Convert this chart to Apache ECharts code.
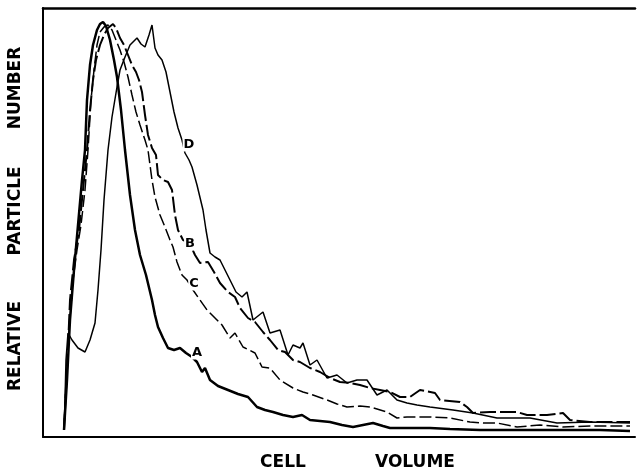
<!DOCTYPE html>
<html>
<head>
<meta charset="utf-8">
<script src="https://cdn.jsdelivr.net/npm/echarts@6/dist/echarts.min.js"></script>
<style>
  html, body { margin: 0; padding: 0; background: #fff; }
  #chart { width: 637px; height: 473px; }
</style>
</head>
<body>
<div id="chart"></div>
<script>
// cell volume (channel) vs relative particle number
var curveA = [
  [5.25, 1.75], [6, 14.25], [6.75, 29.25], [7.75, 41.75], [8.75, 53], [9.75, 64.25], [10.5, 71.75],
  [11, 84.25], [11.75, 93], [12.5, 98], [13.5, 101.75], [14.25, 103.25], [15, 103.75], [15.75, 102.75],
  [16.75, 99.25], [17.75, 94.25], [18.5, 90], [19.5, 81.75], [20.5, 71.75], [21.75, 60.5], [23, 51.75],
  [24.25, 45.5], [25.75, 40.5], [27.25, 34.25], [28, 30.5], [28.75, 27.5], [30, 24.75], [31.25, 22.25],
  [32.75, 21.75], [34.25, 22.25], [35.75, 21], [37.25, 20], [38.5, 18.75], [39.75, 16.25], [40.5, 17.25],
  [41.75, 14.25], [43.75, 12.75], [46.25, 11.75], [48.75, 10.75], [51.25, 10], [53.5, 7.5], [55.5, 6.75],
  [57.5, 6.25], [60, 5.5], [62.5, 5], [64.75, 5.5], [66.75, 4.25], [69.25, 4], [71.75, 3.75], [74.75, 3],
  [77.5, 2.5], [80, 3], [82.5, 3.5], [85, 2.75], [86.75, 2.25], [91.75, 2.25], [96.75, 2.25], [101.75, 2],
  [109.25, 1.75], [116.75, 1.75], [124.25, 1.75], [131.75, 1.75], [139.25, 1.75], [146.75, 1.5]
]
var curveB = [
  [5.25, 1.75], [6, 16.75], [6.75, 34.25], [7.75, 44.25], [9, 51.75], [10, 61.75], [11, 71.75],
  [11.75, 81.75], [12.5, 89.25], [13.25, 94.25], [14.25, 98], [15.25, 100.5], [16.25, 102.25], [17.5, 103.25],
  [18.25, 102.25], [19.25, 99.75], [20.25, 98], [21.25, 95.5], [22.25, 93], [23.25, 91.25], [24, 89.25],
  [24.75, 86.25], [25.5, 80.5], [26.25, 75.5], [27.25, 72.25], [28.25, 70.5], [28.75, 65.5], [30, 64.25],
  [31.25, 63.75], [32.25, 61.75], [33, 55.5], [33.75, 51.75], [35, 49.25], [36.75, 48.25], [38, 45.5],
  [39.25, 43.5], [41.25, 43.75], [42.75, 41.25], [44.25, 38.5], [46.25, 36.25], [48, 35], [49.25, 32.25],
  [51.25, 29.75], [53, 28.75], [55, 26.25], [56.75, 24.25], [58.75, 21.75], [60.5, 21.25], [62.5, 19.25],
  [64.25, 18.75], [66.75, 17.25], [69.25, 16.25], [71.75, 14.75], [74.25, 13.75], [76.75, 13.5], [79.25, 13],
  [81.75, 12.25], [84.25, 11.75], [86.75, 11.25], [89.25, 10], [91.75, 10], [94.25, 11.75], [98, 11],
  [99.25, 9.25], [104.25, 8.75], [106, 7.5], [107.5, 6], [111.75, 6.25], [118.5, 6.25], [121, 5.5],
  [126, 5.5], [130, 6], [131.75, 4.25], [136.75, 3.75], [146.75, 3.75]
]
var curveC = [
  [5.25, 1.75], [5.75, 14.25], [6.5, 26.75], [7.5, 39.25], [8.5, 46.75], [9.5, 53], [10.5, 61.75],
  [11.25, 71.75], [12, 84.25], [12.75, 91.75], [13.5, 98], [14.25, 101.25], [15.25, 102.5], [16.25, 103],
  [17.25, 101.75], [18.25, 99.25], [19.25, 96.75], [20.25, 93.75], [21.25, 90], [22.25, 85.5], [23.25, 81.25],
  [24.25, 78], [25.5, 74.25], [26.25, 71.75], [27.25, 64.25], [28, 60], [29.25, 55.5], [30.5, 52.5],
  [31.75, 49.25], [32.5, 47.5], [33.5, 43.75], [34.75, 40.5], [36, 39.25], [37.5, 36.75], [39.25, 34.25],
  [41, 31.75], [43, 29.75], [44.75, 28], [46.75, 24.75], [48, 26], [50, 22.5], [53, 21], [54.75, 17.5],
  [56.75, 17.25], [59.25, 14.25], [62.5, 12.25], [65, 11.25], [67.5, 10.5], [71, 9.25], [73.5, 8.25],
  [76, 7.5], [79.25, 7.75], [81.75, 7.5], [86, 6.25], [88.5, 4.75], [91, 5], [93.5, 5], [96.75, 5],
  [101.75, 4.75], [106.75, 3.75], [110, 3.5], [113.5, 3.5], [118.5, 2.5], [124.25, 3], [130, 2.5],
  [136.75, 2.75], [146.75, 2.75]
]
var curveD = [
  [5.25, 1.75], [5.5, 9.25], [5.75, 19.25], [6.25, 26], [7.25, 24.25], [8.75, 22.25], [10.5, 21.25],
  [11.75, 24.25], [13, 28.5], [13.75, 36.75], [14.5, 46.75], [15.25, 59.25], [16.25, 71.75], [17.25, 80],
  [18.5, 87.5], [19.25, 91.75], [20.5, 95], [21.75, 98], [23.5, 99.75], [24.5, 98.25], [25.5, 97.5],
  [26.5, 100.5], [27.25, 103], [28, 97.25], [28.75, 95.5], [29.75, 94.25], [30.75, 91.25], [31.75, 86.25],
  [32.75, 81.25], [33.75, 77.25], [34.75, 74.25], [35.5, 71], [36.5, 69.25], [37.25, 67.5], [38.5, 63],
  [40, 56.75], [40.75, 51.75], [41.75, 46], [43, 45], [44.25, 44.25], [45.5, 41.75], [46.75, 39.25],
  [48.25, 36.25], [49.75, 35], [51, 36.25], [52.5, 29.25], [55, 31.25], [56.75, 26], [59.25, 26.75],
  [61.25, 20.5], [62.5, 23], [64.25, 22.25], [65, 23.5], [66.75, 18], [68.5, 19.25], [71, 14.75],
  [73.5, 15.5], [76, 13.5], [78.5, 14.25], [81, 14.25], [83.5, 10.5], [86, 11.75], [88.5, 9.25],
  [91, 8.5], [93.5, 8], [96.75, 7.5], [102.5, 6.75], [107.5, 6], [113.5, 4.75], [121.75, 4.75],
  [128.5, 3.5], [136.75, 3.75], [146.75, 3.5]
]
// where the letters sit on the curves
var curveNames = ['A', 'B', 'C', 'D']
var labelAt = [[38.5, 21], [36.75, 48.25], [37.75, 38.25], [36.5, 73]]

var chart = echarts.init(document.getElementById('chart'))

function curve(name, data, width, dash, idx) {
  return {
    name: name,
    type: 'line',
    data: data,
    showSymbol: false,
    animation: false,
    lineStyle: { color: '#000', width: width, type: dash },
    markPoint: {
      symbol: 'circle',
      symbolSize: 0,
      animation: false,
      label: {
        show: true,
        formatter: name,
        color: '#000',
        fontFamily: 'DejaVu Sans',
        fontWeight: 'bold',
        fontSize: 13,
        backgroundColor: '#fff',
        padding: [0, 1]
      },
      data: [{ coord: labelAt[idx] }]
    }
  }
}

// axis titles, heavy caps like the original
function title(text, x, y, rot) {
  return {
    type: 'text',
    x: x,
    y: y,
    rotation: rot,
    style: {
      text: text,
      fill: '#000',
      font: 'bold 17px "DejaVu Sans"',
      textAlign: 'center',
      textVerticalAlign: 'middle'
    }
  }
}

var option = {
  backgroundColor: '#fff',
  grid: { left: 43, right: 2, top: 8, bottom: 36 },
  xAxis: [
    {
      type: 'value',
      min: 0,
      max: 148,
      axisLine: { show: true, lineStyle: { color: '#000', width: 2 } },
      axisTick: { show: false },
      axisLabel: { show: false },
      splitLine: { show: false }
    },
    {
      type: 'value',
      position: 'top',
      min: 0,
      max: 148,
      axisLine: { show: true, lineStyle: { color: '#000', width: 2.5 } },
      axisTick: { show: false },
      axisLabel: { show: false },
      splitLine: { show: false }
    }
  ],
  yAxis: {
    type: 'value',
    min: 0,
    max: 107.25,
    axisLine: { show: true, lineStyle: { color: '#000', width: 2 } },
    axisTick: { show: false },
    axisLabel: { show: false },
    splitLine: { show: false }
  },
  graphic: [
    title('RELATIVE', 16, 346, Math.PI / 2),
    title('PARTICLE', 16, 211, Math.PI / 2),
    title('NUMBER', 16, 88, Math.PI / 2),
    title('CELL', 283, 463, 0),
    title('VOLUME', 415, 463, 0)
  ],
  series: [
    curve('A', curveA, 2.5, 'solid', 0),
    curve('B', curveB, 2, [16, 4], 1),
    curve('C', curveC, 1.5, [12, 4], 2),
    curve('D', curveD, 1.5, 'solid', 3)
  ]
}
chart.setOption(option)
</script>
</body>
</html>
